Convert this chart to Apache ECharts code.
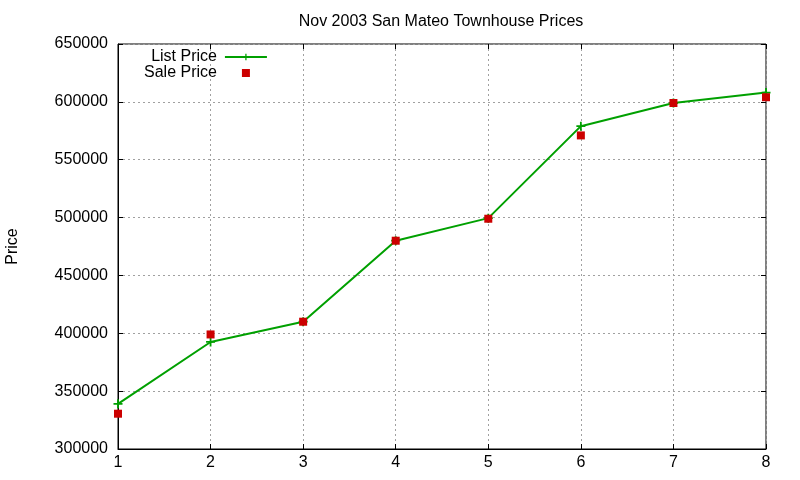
<!DOCTYPE html>
<html>
<head>
<meta charset="utf-8">
<script src="https://cdn.jsdelivr.net/npm/echarts@6/dist/echarts.min.js"></script>
<style>
  html, body { margin: 0; padding: 0; background: #fff; }
  #main { width: 800px; height: 480px; }
</style>
</head>
<body>
<div id="main"></div>
<script>
// data
const houses = [1, 2, 3, 4, 5, 6, 7, 8]
const listPrice = [339000, 392500, 410000, 480000, 499500, 579000, 599000, 608000]
const salePrice = [330500, 399000, 410000, 480000, 499000, 571000, 599000, 604000]

const font = "Liberation Sans, Arial, sans-serif"
const plus = "path://M4,0H6V4H10V6H6V10H4V6H0V4H4Z"
const square = "path://M0,0H8V8H0Z"

const chart = echarts.init(document.getElementById("main"))

const gridLine = { show: true, lineStyle: { color: "#a0a0a0", type: [2, 3], width: 1 } }
const tick = { show: true, inside: true, length: 5, lineStyle: { color: "#000" } }

chart.setOption({
  animation: false,
  backgroundColor: "#fff",
  title: {
    text: "Nov 2003 San Mateo Townhouse Prices",
    left: 436, top: 9, textAlign: "center",
    textStyle: { fontFamily: font, fontSize: 16, fontWeight: "normal", color: "#000" }
  },
  legend: {
    orient: "vertical",
    left: 139, top: 44,
    align: "right",
    itemGap: 0,
    itemWidth: 42, itemHeight: 8,
    textStyle: { fontFamily: font, fontSize: 16, color: "#000", width: 74, align: "right", padding: [0, 3, 0, 0] },
    data: [
      { name: "List Price" },
      { name: "Sale Price", icon: square, itemStyle: { color: "#cc0000" } }
    ]
  },
  grid: {
    left: 118, right: 34, top: 44, bottom: 31,
    outerBoundsMode: "none",
    show: true, borderColor: "#000", borderWidth: 1
  },
  xAxis: [
    {
      type: "value", min: 1, max: 8, interval: 1,
      axisLine: { show: true, lineStyle: { color: "#000" } },
      axisTick: tick,
      splitLine: gridLine,
      axisLabel: { fontFamily: font, fontSize: 16, color: "#000", margin: 6 }
    },
    {
      type: "value", position: "top", min: 1, max: 8, interval: 1,
      axisLine: { show: false }, axisTick: tick, splitLine: { show: false }, axisLabel: { show: false }
    }
  ],
  yAxis: [
    {
      type: "value", min: 300000, max: 650000, interval: 50000,
      name: "Price", nameLocation: "middle", nameGap: 97, nameRotate: 90,
      nameTextStyle: { fontFamily: font, fontSize: 16, color: "#000" },
      axisLine: { show: true, lineStyle: { color: "#000" } },
      axisTick: tick,
      splitLine: gridLine,
      axisLabel: { fontFamily: font, fontSize: 16, color: "#000", margin: 10, formatter: v => String(v) }
    },
    {
      type: "value", position: "right", min: 300000, max: 650000, interval: 50000,
      axisLine: { show: false }, axisTick: tick, splitLine: { show: false }, axisLabel: { show: false }
    }
  ],
  series: [
    {
      name: "List Price",
      type: "line",
      data: houses.map((h, i) => [h, listPrice[i]]),
      symbol: plus, symbolSize: 9,
      showAllSymbol: true,
      color: "#00a000",
      lineStyle: { color: "#00a000", width: 2 },
      itemStyle: { color: "#00a000" },
      z: 2
    },
    {
      name: "Sale Price",
      type: "scatter",
      data: houses.map((h, i) => [h, salePrice[i]]),
      symbol: "rect", symbolSize: 8,
      symbolKeepAspect: true,
      itemStyle: { color: "#cc0000", opacity: 1 },
      z: 3
    }
  ]
})
</script>
</body>
</html>
